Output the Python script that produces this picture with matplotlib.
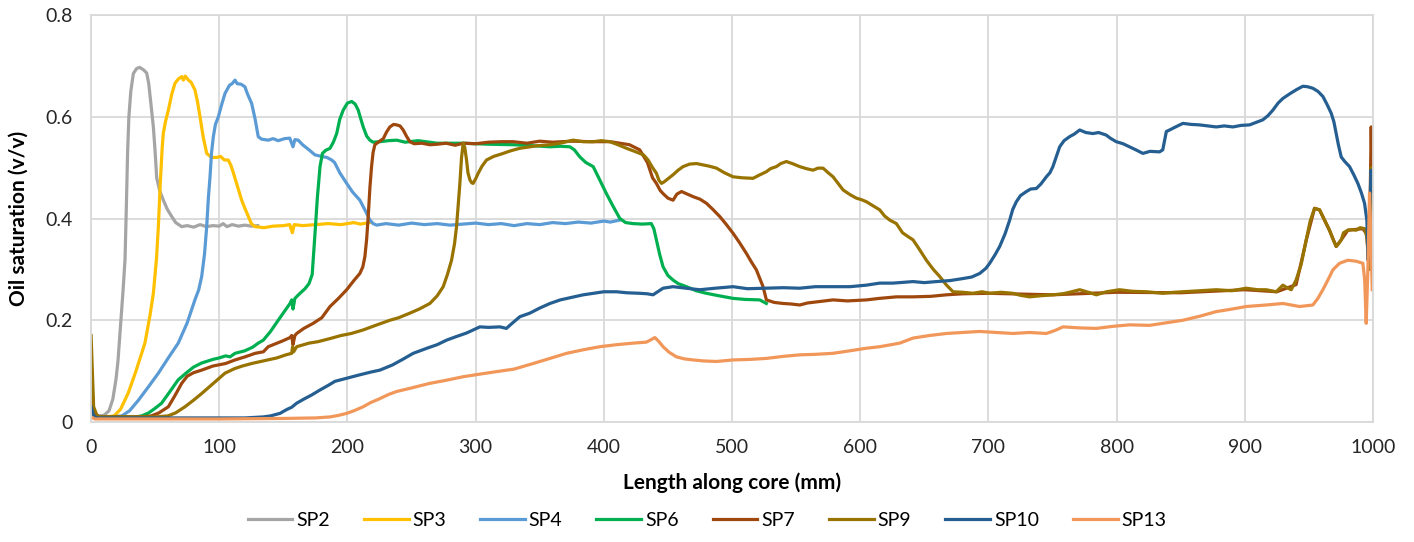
import matplotlib
matplotlib.use("Agg")
import matplotlib.pyplot as plt
from matplotlib.ticker import FixedLocator, FixedFormatter

plt.rcParams['font.family'] = ['Lato', 'DejaVu Sans']

# Oil saturation profiles along the core (x in mm, y in v/v)
sp2_x = [0, 2, 6, 10, 14, 17, 19.5, 21, 23, 25, 26.5, 27.5, 28.5, 29.5, 31, 33, 35.6, 38, 41, 43.4, 45, 46.5,
         48.6, 50, 51.2, 53.5, 56.4, 59.5, 62.9, 66, 70.7, 75, 80, 85, 90, 95, 100, 103, 106, 110, 115, 120, 125, 130]
sp2_y = [0.04, 0.015, 0.012, 0.013, 0.022, 0.045, 0.085, 0.12, 0.19, 0.26, 0.32, 0.42, 0.53, 0.6, 0.65, 0.685,
         0.695, 0.697, 0.692, 0.686, 0.665, 0.63, 0.58, 0.53, 0.48, 0.455, 0.436, 0.418, 0.404, 0.392, 0.384,
         0.386, 0.383, 0.388, 0.384, 0.386, 0.385, 0.39, 0.384, 0.388, 0.385, 0.387, 0.385, 0.386]

sp3_x = [0, 2, 6, 12, 18, 23, 29, 35, 42, 46, 48.6, 51, 52.5, 54, 55.5, 56.4, 58, 60.3, 63, 65.5, 68, 70.7, 72,
         73.5, 75.9, 78, 81, 83, 85, 87.5, 90.2, 94, 98, 101, 104, 107, 109, 111, 114, 117.5, 120, 122.7, 125,
         127.9, 135, 142, 150, 155, 157, 158.5, 165, 175, 185, 195, 205, 210, 217.5]
sp3_y = [0.06, 0.02, 0.01, 0.01, 0.012, 0.025, 0.057, 0.1, 0.155, 0.21, 0.253, 0.32, 0.384, 0.47, 0.54, 0.568,
         0.59, 0.613, 0.645, 0.666, 0.674, 0.679, 0.672, 0.68, 0.672, 0.668, 0.653, 0.63, 0.6, 0.56, 0.528,
         0.52, 0.52, 0.522, 0.515, 0.515, 0.505, 0.49, 0.465, 0.436, 0.42, 0.404, 0.39, 0.384, 0.382, 0.385,
         0.386, 0.388, 0.372, 0.388, 0.386, 0.388, 0.39, 0.388, 0.392, 0.389, 0.392]

sp4_x = [0, 2, 6, 15, 24, 30, 37, 45, 52.5, 60, 68, 75, 81, 84, 86.3, 88.5, 90.2, 91.5, 92.8, 94, 95.4, 97, 99.3,
         102, 104.5, 108, 110, 112.3, 114, 117, 120, 122, 125.3, 128, 130.4, 133, 138.2, 142, 146, 151, 155,
         157.5, 159, 161.6, 165, 170, 174.7, 180, 184, 187.7, 190, 194, 199.4, 204, 209.7, 214, 217.5, 220,
         222.8, 230, 240, 250, 260, 270, 280, 290, 300, 310, 320, 330, 340, 350, 360, 370, 380, 390, 400, 405,
         412.5]
sp4_y = [0.05, 0.02, 0.01, 0.01, 0.012, 0.022, 0.043, 0.07, 0.096, 0.125, 0.155, 0.195, 0.24, 0.26, 0.286,
         0.33, 0.384, 0.44, 0.482, 0.53, 0.561, 0.585, 0.6, 0.625, 0.646, 0.662, 0.665, 0.672, 0.665, 0.664,
         0.659, 0.645, 0.626, 0.595, 0.561, 0.556, 0.554, 0.557, 0.553, 0.557, 0.558, 0.541, 0.555, 0.554,
         0.545, 0.535, 0.525, 0.522, 0.52, 0.515, 0.51, 0.49, 0.469, 0.452, 0.436, 0.415, 0.397, 0.39, 0.387,
         0.39, 0.387, 0.391, 0.388, 0.39, 0.387, 0.389, 0.391, 0.388, 0.39, 0.386, 0.39, 0.388, 0.392, 0.39,
         0.393, 0.391, 0.395, 0.393, 0.397]

sp6_x = [0, 2, 6, 20, 35, 39.5, 45, 50, 55, 61, 68, 75, 80, 86.3, 95, 100, 105, 108.4, 112.3, 120, 126, 130.4,
         134.4, 140, 146, 151, 155.2, 156.5, 157.5, 159, 163, 166.9, 170, 172.5, 174.7, 176.5, 178.6, 180.5,
         183, 186.4, 189, 191.6, 194, 196.7, 200, 203.3, 206, 208.4, 210.5, 212.3, 215, 217.5, 220, 225.3,
         232, 238.4, 245, 255, 270, 290, 310, 330, 345, 358, 366, 373.5, 377, 381.3, 386, 391.7, 396, 402,
         407, 412.5, 417, 422.8, 430, 437, 439, 441, 443.5, 446.2, 450, 454, 458, 464.5, 472, 480, 490,
         500.8, 510, 521.6, 526.8]
sp6_y = [0.1, 0.02, 0.01, 0.01, 0.01, 0.012, 0.018, 0.027, 0.037, 0.058, 0.083, 0.098, 0.108, 0.116, 0.123,
         0.126, 0.13, 0.128, 0.135, 0.14, 0.147, 0.155, 0.161, 0.178, 0.2, 0.218, 0.233, 0.24, 0.222, 0.243,
         0.253, 0.262, 0.272, 0.29, 0.371, 0.44, 0.502, 0.528, 0.534, 0.538, 0.55, 0.567, 0.595, 0.613,
         0.627, 0.63, 0.625, 0.613, 0.595, 0.58, 0.562, 0.554, 0.55, 0.551, 0.553, 0.554, 0.55, 0.553, 0.548,
         0.548, 0.546, 0.545, 0.543, 0.541, 0.542, 0.541, 0.535, 0.521, 0.51, 0.502, 0.48, 0.449, 0.425,
         0.4, 0.392, 0.39, 0.389, 0.39, 0.38, 0.358, 0.33, 0.305, 0.288, 0.279, 0.272, 0.266, 0.258, 0.253,
         0.248, 0.243, 0.241, 0.24, 0.233]

sp7_x = [0, 2, 6, 25, 40, 47, 53, 60.3, 65, 70.7, 75, 80, 86.3, 95, 105, 112.3, 120, 128, 134.4, 138.2, 145,
         150, 155.2, 156.5, 157.5, 159, 160.4, 166, 173.3, 180, 186.4, 193, 199.4, 205, 209.7, 212, 213.6,
         215, 216.2, 217.5, 218.8, 220, 221.4, 224, 228, 230.5, 233.1, 236, 238.4, 241, 243.5, 246, 248.7,
         252, 258, 264.3, 270, 277, 284, 290.3, 300, 310, 320, 329.3, 340, 350, 360, 375, 390, 405, 420, 428,
         434, 438, 441, 444, 446.2, 450, 454, 457, 460.6, 465, 469.6, 475, 480, 485, 490.4, 495, 500.8, 506,
         511.3, 515, 519, 522, 524.2, 526.8, 533, 539.8, 546, 552.8, 559, 565.8, 572, 578.8, 590, 604.8, 615,
         628.2, 641, 655, 667.2, 680, 700, 750, 800, 850, 900, 925, 940, 948, 954.4, 958.3, 966, 971.3,
         975.2, 980.4, 992, 995, 997, 998.6, 999.5]
sp7_y = [0.05, 0.02, 0.01, 0.01, 0.01, 0.012, 0.018, 0.03, 0.05, 0.076, 0.09, 0.097, 0.102, 0.11, 0.115,
         0.122, 0.128, 0.135, 0.138, 0.148, 0.155, 0.16, 0.166, 0.17, 0.152, 0.17, 0.174, 0.184, 0.194, 0.205,
         0.227, 0.243, 0.26, 0.278, 0.292, 0.305, 0.325, 0.36, 0.404, 0.46, 0.502, 0.53, 0.545, 0.55, 0.557,
         0.57, 0.58, 0.585, 0.584, 0.582, 0.574, 0.562, 0.551, 0.547, 0.548, 0.545, 0.546, 0.548, 0.544,
         0.548, 0.547, 0.55, 0.551, 0.551, 0.548, 0.552, 0.55, 0.552, 0.551, 0.551, 0.545, 0.535, 0.51, 0.48,
         0.469, 0.455, 0.449, 0.44, 0.436, 0.448, 0.453, 0.448, 0.443, 0.438, 0.43, 0.418, 0.404, 0.39, 0.371,
         0.352, 0.331, 0.315, 0.299, 0.28, 0.266, 0.24, 0.235, 0.233, 0.232, 0.23, 0.234, 0.236, 0.238, 0.24,
         0.238, 0.24, 0.243, 0.246, 0.246, 0.247, 0.25, 0.252, 0.253, 0.25, 0.255, 0.254, 0.26, 0.256, 0.27,
         0.358, 0.42, 0.417, 0.377, 0.345, 0.358, 0.377, 0.38, 0.37, 0.3, 0.58, 0.45]

sp9_x = [0, 2, 5, 30, 50, 60, 66, 73.3, 80, 86.3, 95, 104.5, 112, 118, 125.3, 134.4, 145, 152, 156.5, 157.2,
         158, 160.4, 170, 177.2, 186.4, 195, 203, 212.3, 222, 233.1, 240, 248.7, 256, 264.3, 270, 274.7, 278,
         281.2, 283.5, 285.1, 286.5, 287.7, 289, 290.3, 291.5, 292.9, 294, 295.5, 297, 298, 300, 302, 305,
         308.5, 314, 321.5, 326, 330, 334.5, 340, 348, 358, 366, 376, 384, 391.7, 398, 404.7, 411, 417.7, 423,
         428, 431, 434.5, 438, 441, 443, 445, 447, 449, 454, 458, 461.8, 467, 472.3, 478, 482, 487.9, 494,
         500.8, 508, 516.4, 521, 526.8, 530, 534.6, 538, 542.4, 547, 552.8, 558, 563.2, 567, 571, 575, 578.8,
         583, 586.7, 592, 597, 601, 604.8, 610, 615.2, 619, 623, 628.2, 633, 637, 641.2, 646, 651.6, 657, 662,
         667, 672.4, 680, 688, 695, 701, 710, 719, 725, 732.2, 740, 750.3, 758, 765, 771.2, 778, 784.2, 792,
         802.3, 812, 823.2, 836, 845, 851.7, 865, 877.7, 890, 901, 910, 916.7, 924.5, 929.7, 933, 936.2, 940,
         944, 947.9, 951, 954.4, 958.3, 962, 966.1, 969, 971.3, 973, 975.2, 977, 980.4, 984, 986.9, 990,
         993.5, 995.5, 997, 998.6, 999.6]
sp9_y = [0.17, 0.03, 0.01, 0.01, 0.01, 0.012, 0.018, 0.03, 0.043, 0.056, 0.075, 0.096, 0.105, 0.11, 0.115,
         0.12, 0.126, 0.132, 0.135, 0.148, 0.138, 0.148, 0.155, 0.158, 0.164, 0.17, 0.174, 0.181, 0.19, 0.2,
         0.205, 0.214, 0.222, 0.233, 0.248, 0.266, 0.29, 0.318, 0.35, 0.384, 0.43, 0.469, 0.52, 0.548, 0.54,
         0.515, 0.49, 0.476, 0.47, 0.469, 0.478, 0.489, 0.503, 0.515, 0.522, 0.528, 0.532, 0.535, 0.538, 0.54,
         0.543, 0.545, 0.548, 0.554, 0.551, 0.551, 0.553, 0.551, 0.545, 0.538, 0.533, 0.528, 0.525, 0.515,
         0.5, 0.489, 0.475, 0.469, 0.472, 0.476, 0.486, 0.495, 0.502, 0.507, 0.508, 0.505, 0.503, 0.499,
         0.49, 0.482, 0.48, 0.479, 0.485, 0.492, 0.498, 0.502, 0.508, 0.512, 0.508, 0.502, 0.498, 0.495,
         0.499, 0.499, 0.49, 0.482, 0.468, 0.456, 0.447, 0.44, 0.437, 0.433, 0.425, 0.417, 0.405, 0.397,
         0.39, 0.372, 0.365, 0.358, 0.34, 0.318, 0.3, 0.286, 0.27, 0.256, 0.255, 0.253, 0.256, 0.253, 0.255,
         0.253, 0.249, 0.246, 0.248, 0.25, 0.252, 0.256, 0.26, 0.255, 0.25, 0.256, 0.26, 0.257, 0.256, 0.253,
         0.255, 0.256, 0.258, 0.26, 0.258, 0.263, 0.26, 0.26, 0.256, 0.269, 0.264, 0.26, 0.279, 0.31, 0.358,
         0.395, 0.42, 0.417, 0.398, 0.377, 0.358, 0.345, 0.35, 0.358, 0.372, 0.377, 0.378, 0.377, 0.382,
         0.38, 0.36, 0.3, 0.5, 0.42]

sp10_x = [0, 2, 5, 50, 100, 120, 134.4, 140, 147.4, 153, 156.5, 160.4, 166, 172, 178.6, 185, 190.3, 199.4, 210,
          218, 225.3, 235, 243, 251.3, 262, 270, 277.4, 285, 293, 303.3, 310, 318.9, 324, 328, 334.5, 342.3,
          350, 358, 366, 375, 383.9, 392, 400, 409.9, 418, 428, 434, 438.4, 442, 446.2, 454, 464, 474.9, 487,
          500.8, 512, 526.8, 540, 552.8, 565, 578.8, 592, 604.8, 615.2, 625.6, 641.2, 650, 659.4, 670, 680.2,
          687, 693.2, 698, 701, 705, 708.8, 713, 716.6, 719, 721.8, 725, 729.6, 733, 737.4, 741, 745.2, 748,
          750.3, 753, 755.6, 759, 763.4, 767, 771.2, 776, 781.5, 786, 791.9, 795, 799.7, 805, 810.1, 815,
          820.5, 826, 833.5, 836, 838.8, 841.3, 846, 851.7, 858, 864.7, 871, 877.7, 884, 890.7, 897, 903.7,
          909, 914.1, 918, 921.9, 926, 929.7, 935, 940.1, 945.3, 949, 953.1, 957, 960.9, 964, 967.4, 969.5,
          971.3, 973, 975.2, 978, 981.7, 985, 988.2, 991, 993.4, 995.2, 996.2, 997.5, 998.5, 999.5]
sp10_y = [0.03, 0.012, 0.008, 0.008, 0.008, 0.008, 0.01, 0.012, 0.017, 0.025, 0.029, 0.037, 0.045, 0.053,
          0.063, 0.072, 0.08, 0.086, 0.093, 0.098, 0.102, 0.112, 0.123, 0.135, 0.145, 0.152, 0.161, 0.168,
          0.175, 0.187, 0.186, 0.187, 0.184, 0.193, 0.207, 0.214, 0.224, 0.233, 0.24, 0.245, 0.25, 0.253,
          0.256, 0.256, 0.254, 0.253, 0.252, 0.25, 0.256, 0.263, 0.266, 0.263, 0.26, 0.263, 0.266, 0.262,
          0.263, 0.264, 0.263, 0.266, 0.266, 0.266, 0.269, 0.273, 0.273, 0.276, 0.274, 0.276, 0.278, 0.282,
          0.285, 0.292, 0.302, 0.312, 0.328, 0.345, 0.37, 0.397, 0.418, 0.433, 0.445, 0.453, 0.458, 0.459,
          0.468, 0.482, 0.49, 0.502, 0.522, 0.541, 0.553, 0.561, 0.566, 0.574, 0.569, 0.567, 0.569, 0.564,
          0.558, 0.551, 0.547, 0.541, 0.535, 0.528, 0.532, 0.531, 0.535, 0.571, 0.574, 0.58, 0.587, 0.585,
          0.584, 0.582, 0.58, 0.582, 0.58, 0.583, 0.584, 0.589, 0.594, 0.602, 0.613, 0.627, 0.636, 0.645,
          0.653, 0.66, 0.659, 0.656, 0.65, 0.64, 0.625, 0.607, 0.59, 0.567, 0.545, 0.521, 0.512, 0.502, 0.486,
          0.469, 0.45, 0.43, 0.397, 0.318, 0.42, 0.495, 0.47]

sp13_x = [0, 3, 50, 100, 150, 175, 186.4, 193, 199.4, 205, 212.3, 218, 225.3, 232, 238.4, 250, 264.3, 277,
          290.3, 303, 316.3, 330, 344.9, 358, 370.9, 384, 396.9, 410, 422.8, 433.2, 437, 439.8, 443, 446.2, 451,
          456.7, 463, 469.6, 478, 487.9, 500.8, 514, 526.8, 540, 552.8, 565, 578.8, 592, 604.8, 615.2, 630.8,
          641.2, 654, 667.2, 680, 693.2, 706, 719.2, 732, 745.2, 752, 758.2, 771, 784.2, 797, 810.1, 825.7,
          836.1, 851.7, 865, 877.7, 890, 901, 916.7, 929.7, 942.7, 953.1, 957, 960.9, 965, 968.7, 973.9, 980.4,
          986.9, 992.1, 993.5, 994.7, 996, 997.3, 998.5, 999.4]
sp13_y = [0.01, 0.006, 0.006, 0.006, 0.007, 0.008, 0.01, 0.013, 0.017, 0.022, 0.03, 0.038, 0.046, 0.054, 0.06,
          0.067, 0.076, 0.082, 0.089, 0.094, 0.099, 0.104, 0.115, 0.125, 0.135, 0.142, 0.148, 0.152, 0.155,
          0.157, 0.162, 0.166, 0.158, 0.148, 0.137, 0.128, 0.124, 0.122, 0.12, 0.119, 0.122, 0.123, 0.125,
          0.129, 0.132, 0.133, 0.135, 0.14, 0.145, 0.148, 0.155, 0.165, 0.17, 0.174, 0.176, 0.178, 0.176,
          0.174, 0.176, 0.174, 0.18, 0.187, 0.185, 0.184, 0.188, 0.191, 0.19, 0.194, 0.2, 0.208, 0.217, 0.222,
          0.227, 0.23, 0.233, 0.227, 0.23, 0.243, 0.26, 0.28, 0.299, 0.312, 0.318, 0.316, 0.312, 0.28, 0.194,
          0.3, 0.45, 0.35, 0.26]

series = [
    ("SP2", sp2_x, sp2_y, "#A5A5A5"),
    ("SP3", sp3_x, sp3_y, "#FFC000"),
    ("SP4", sp4_x, sp4_y, "#5B9BD5"),
    ("SP6", sp6_x, sp6_y, "#00B050"),
    ("SP7", sp7_x, sp7_y, "#9E480E"),
    ("SP9", sp9_x, sp9_y, "#997300"),
    ("SP10", sp10_x, sp10_y, "#255E91"),
    ("SP13", sp13_x, sp13_y, "#F1975A"),
]

x_ticks = [0, 100, 200, 300, 400, 500, 600, 700, 800, 900, 1000]
y_ticks = [0, 0.2, 0.4, 0.6, 0.8]
y_tick_labels = ["0", "0.2", "0.4", "0.6", "0.8"]

fig = plt.figure(figsize=(14.14, 5.42), dpi=100)
ax = fig.add_axes([0.0644, 0.2214, 0.9066, 0.7509])

for name, xs, ys, color in series:
    ax.plot(xs, ys, color=color, lw=2.3, label=name, solid_joinstyle="round")

ax.set_xlim(0, 1000)
ax.set_ylim(0, 0.8)
ax.xaxis.set_major_locator(FixedLocator(x_ticks))
ax.yaxis.set_major_locator(FixedLocator(y_ticks))
ax.yaxis.set_major_formatter(FixedFormatter(y_tick_labels))
ax.grid(True, color="#D9D9D9", lw=1.3)
ax.set_axisbelow(True)
for sp in ax.spines.values():
    sp.set_color("#D9D9D9")
    sp.set_linewidth(1.3)
ax.tick_params(axis="both", length=0, labelsize=14, colors="#404040", labelcolor="#262626")
ax.tick_params(axis="y", pad=13)
ax.tick_params(axis="x", pad=12)

ax.set_xlabel("Length along core (mm)", fontsize=15, fontweight="bold", labelpad=12)
ax.set_ylabel("Oil saturation (v/v)", fontsize=15, fontweight="bold", labelpad=12)

# legend centred on the figure width rather than the axes
ax.legend(loc="center", bbox_to_anchor=(0.4805, -0.241), ncol=8, frameon=False, fontsize=14,
          handlelength=2.3, handletextpad=0.2, columnspacing=1.75)

fig.savefig("out.png", dpi=100)
